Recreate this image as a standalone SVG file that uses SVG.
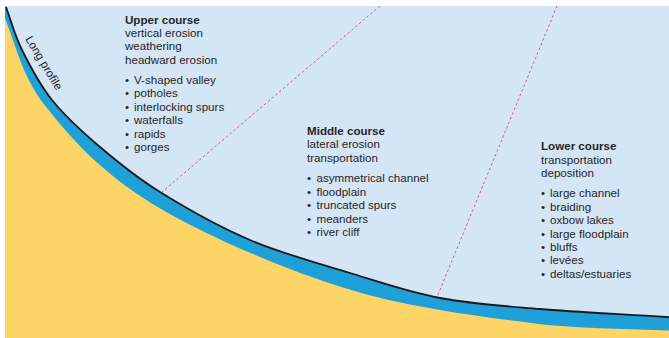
<svg xmlns="http://www.w3.org/2000/svg" width="669" height="338" viewBox="0 0 669 338">
<style>
.t{font-family:"Liberation Sans",Arial,sans-serif;font-size:11.6px;fill:#262626}
.h{font-weight:bold}
.dash{fill:none;stroke:#d2559c;stroke-width:1;stroke-dasharray:2.5 2.5}
</style>
<defs>
<clipPath id="area"><rect x="5" y="6" width="664" height="332"/></clipPath>
</defs>
<rect x="0" y="0" width="669" height="338" fill="#ffffff"/>
<g id="landscape" clip-path="url(#area)">
<rect x="5" y="6" width="664" height="332" fill="#d4e5f5"/>
<path id="channel" fill="#1fa0d9" d="M6,7 C11.3,21.3 14.3,34.5 22,50 C29.7,65.5 39,83.8 52,100 C65,116.2 82,131.7 100,147 C118,162.3 135,176.5 160,192 C185,207.5 218.3,226.5 250,240 C281.7,253.5 318.3,263.3 350,273 C381.7,282.7 408.3,292 440,298 C471.7,304 501.8,305.8 540,309 C578.2,312.2 626,314.3 680,318 L680,340 L0,340 L0,0 Z"/>
<path id="ground" fill="#fdd567" d="M1,9 C15.7,41.2 19.7,73.1 45,105.6 C70.3,138.1 102.5,173.4 152.6,203.9 C202.7,234.4 280.9,268.3 345.3,288.3 C409.7,308.3 483,316.9 538.8,324 C594.6,329.5 633,328.7 680,331 L680,340 L0,340 L0,0 Z"/>
</g>
<g id="connectors" clip-path="url(#area)">
<line class="dash" x1="380" y1="6" x2="162" y2="192"/>
<line class="dash" x1="557" y1="6" x2="437" y2="297"/>
<path id="long-profile-line" fill="none" stroke="#1a1a1a" stroke-width="1.8" d="M6,7 C11.3,21.3 14.3,34.5 22,50 C29.7,65.5 39,83.8 52,100 C65,116.2 82,131.7 100,147 C118,162.3 135,176.5 160,192 C185,207.5 218.3,226.5 250,240 C281.7,253.5 318.3,263.3 350,273 C381.7,282.7 408.3,292 440,298 C471.7,304 501.8,305.8 540,309 C578.2,312.2 626,314.3 680,318"/>
</g>
<g id="long-profile-label">
<text class="t" transform="translate(25,39) rotate(59)">Long profile</text>
</g>
<g id="upper-course">
<text class="t h" x="125" y="23.5">Upper course</text>
<text class="t" x="125" y="37">vertical erosion</text>
<text class="t" x="125" y="50.3">weathering</text>
<text class="t" x="125" y="63.6">headward erosion</text>
<text class="t" x="125" y="84">•<tspan x="134">V-shaped valley</tspan></text>
<text class="t" x="125" y="97.4">•<tspan x="134">potholes</tspan></text>
<text class="t" x="125" y="110.8">•<tspan x="134">interlocking spurs</tspan></text>
<text class="t" x="125" y="124.2">•<tspan x="134">waterfalls</tspan></text>
<text class="t" x="125" y="137.6">•<tspan x="134">rapids</tspan></text>
<text class="t" x="125" y="151">•<tspan x="134">gorges</tspan></text>
</g>
<g id="middle-course">
<text class="t h" x="307" y="135">Middle course</text>
<text class="t" x="307" y="148.4">lateral erosion</text>
<text class="t" x="307" y="161.8">transportation</text>
<text class="t" x="307" y="182.3">•<tspan x="316.5">asymmetrical channel</tspan></text>
<text class="t" x="307" y="195.7">•<tspan x="316.5">floodplain</tspan></text>
<text class="t" x="307" y="209.1">•<tspan x="316.5">truncated spurs</tspan></text>
<text class="t" x="307" y="222.5">•<tspan x="316.5">meanders</tspan></text>
<text class="t" x="307" y="235.9">•<tspan x="316.5">river cliff</tspan></text>
</g>
<g id="lower-course">
<text class="t h" x="541" y="150">Lower course</text>
<text class="t" x="541" y="163.6">transportation</text>
<text class="t" x="541" y="177">deposition</text>
<text class="t" x="541" y="197.4">•<tspan x="550">large channel</tspan></text>
<text class="t" x="541" y="210.8">•<tspan x="550">braiding</tspan></text>
<text class="t" x="541" y="224.2">•<tspan x="550">oxbow lakes</tspan></text>
<text class="t" x="541" y="237.6">•<tspan x="550">large floodplain</tspan></text>
<text class="t" x="541" y="251">•<tspan x="550">bluffs</tspan></text>
<text class="t" x="541" y="264.4">•<tspan x="550">levées</tspan></text>
<text class="t" x="541" y="277.8">•<tspan x="550">deltas/estuaries</tspan></text>
</g>
</svg>
